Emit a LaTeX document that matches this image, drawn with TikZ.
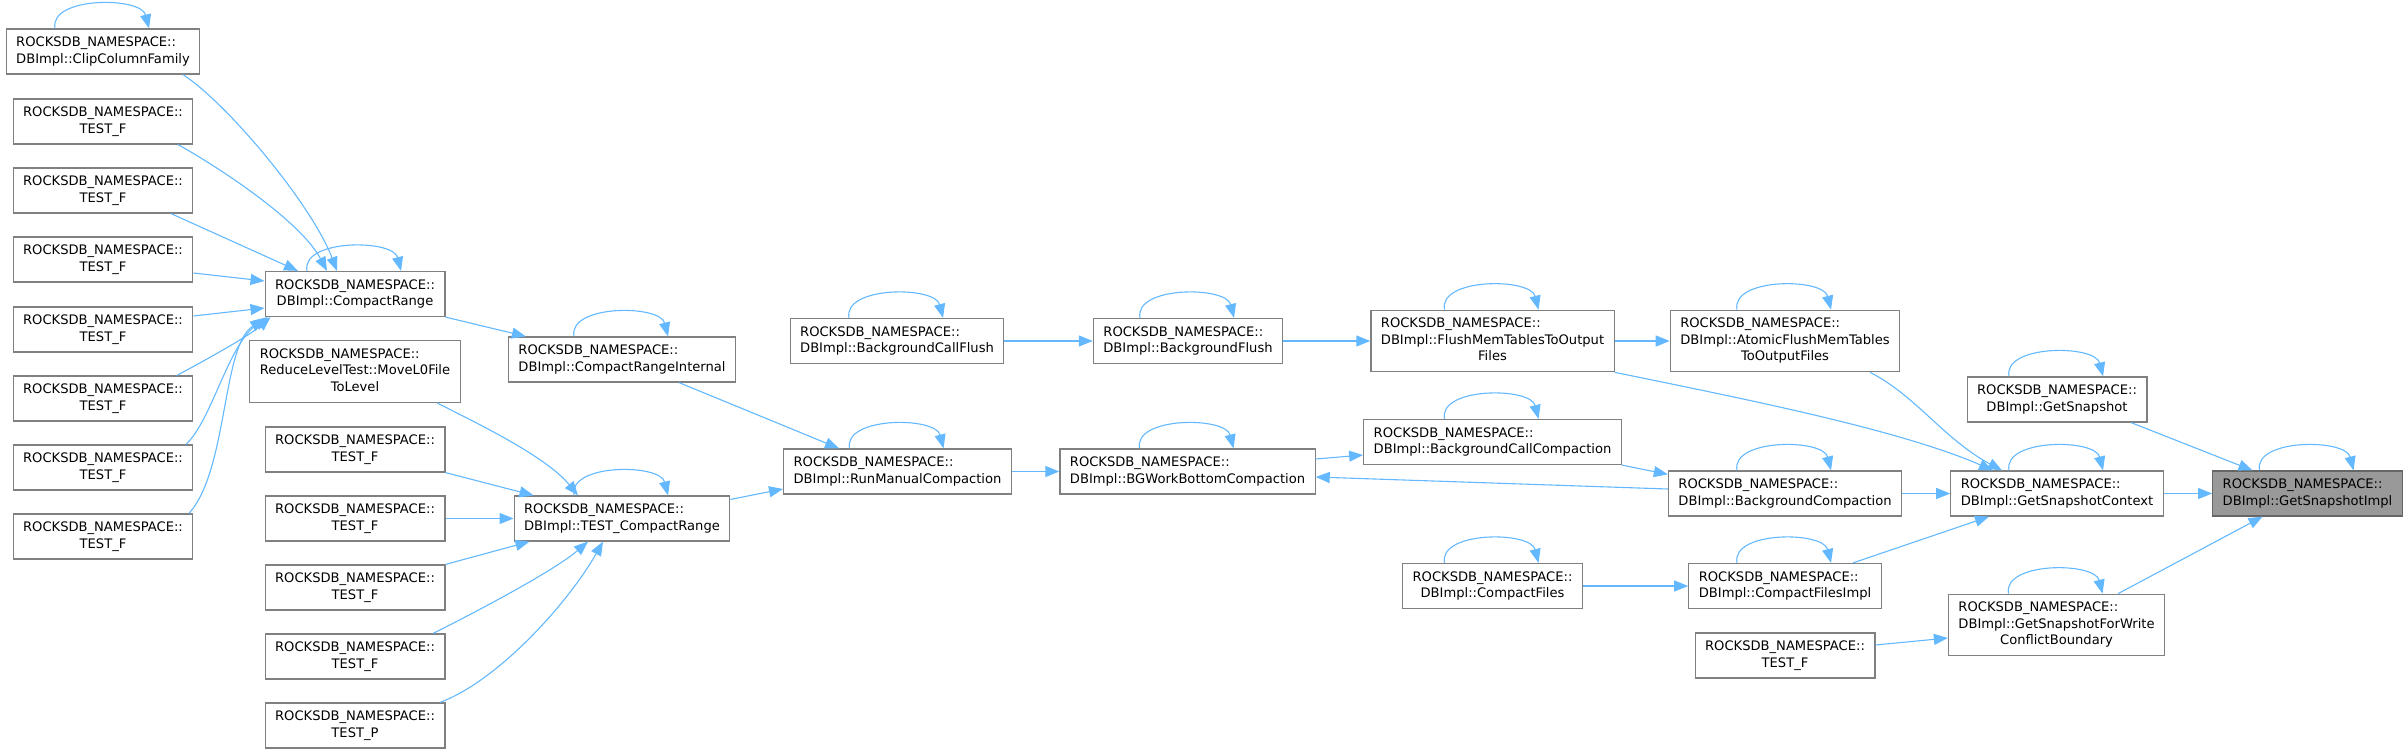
\documentclass[tikz,border=0pt]{standalone}
\usepackage{fontspec}
\setmainfont{DejaVu Sans}
\usepackage{tikz}
\usetikzlibrary{calc,arrows.meta}
\usepackage{xcolor}
\definecolor{azul}{HTML}{63B8FF}
\definecolor{borde}{HTML}{808080}
\definecolor{relleno}{HTML}{999999}
\newcommand{\nsp}{ROCKSDB\_NAMESPACE::}
\newcommand{\rotulo}[2]{\begin{tabular}{@{}l@{}}#1\\\multicolumn{1}{@{}c@{}}{#2}\end{tabular}}

\begin{document}
\begin{tikzpicture}[
      x=1pt, y=-1pt,
      funcion/.style={draw=borde, fill=white, line width=1.2pt, inner xsep=10pt, inner ysep=6pt,
                      font=\fontsize{13.1pt}{16.5pt}\selectfont},
      actual/.style={funcion, draw=borde!80!black, fill=relleno},
      flecha/.style={->, >={Triangle[length=14pt,width=11pt]}, draw=azul, line width=1.1pt}
    ]
    \useasboundingbox (0,0) rectangle (2408,754);

    \node[funcion] (cf)  at (103,51.5)    {\rotulo{\nsp}{DBImpl::ClipColumnFamily}};
    \node[funcion] (t1)  at (103,121.5)   {\rotulo{\nsp}{TEST\_F}};
    \node[funcion] (t2)  at (103,190.5)   {\rotulo{\nsp}{TEST\_F}};
    \node[funcion] (t3)  at (103,259.5)   {\rotulo{\nsp}{TEST\_F}};
    \node[funcion] (t4)  at (103,329.5)   {\rotulo{\nsp}{TEST\_F}};
    \node[funcion] (t5)  at (103,398.5)   {\rotulo{\nsp}{TEST\_F}};
    \node[funcion] (t6)  at (103,467.5)   {\rotulo{\nsp}{TEST\_F}};
    \node[funcion] (t7)  at (103,536.5)   {\rotulo{\nsp}{TEST\_F}};
    \node[funcion] (cr)  at (355,294)     {\rotulo{\nsp}{DBImpl::CompactRange}};
    \node[funcion] (ml)  at (355,371.5)   {\rotulo{\nsp\\ReduceLevelTest::MoveL0File}{ToLevel}};
    \node[funcion] (m1)  at (355,449.5)   {\rotulo{\nsp}{TEST\_F}};
    \node[funcion] (m2)  at (355,518.5)   {\rotulo{\nsp}{TEST\_F}};
    \node[funcion] (m3)  at (355,587.5)   {\rotulo{\nsp}{TEST\_F}};
    \node[funcion] (m4)  at (355,656.5)   {\rotulo{\nsp}{TEST\_F}};
    \node[funcion] (tp)  at (355,725.5)   {\rotulo{\nsp}{TEST\_P}};
    \node[funcion] (cri) at (622,359.5)   {\rotulo{\nsp}{DBImpl::CompactRangeInternal}};
    \node[funcion] (tcr) at (622,518.5)   {\rotulo{\nsp}{DBImpl::TEST\_CompactRange}};
    \node[funcion] (rmc) at (897.5,471.5) {\rotulo{\nsp}{DBImpl::RunManualCompaction}};
    \node[funcion] (bcf) at (897,341)     {\rotulo{\nsp}{DBImpl::BackgroundCallFlush}};
    \node[funcion] (bf)  at (1188,341)    {\rotulo{\nsp}{DBImpl::BackgroundFlush}};
    \node[funcion] (bgw) at (1187.5,471.5) {\rotulo{\nsp}{DBImpl::BGWorkBottomCompaction}};
    \node[funcion] (fmt) at (1492.5,341)  {\rotulo{\nsp\\DBImpl::FlushMemTablesToOutput}{Files}};
    \node[funcion] (bcc) at (1492.5,442)  {\rotulo{\nsp}{DBImpl::BackgroundCallCompaction}};
    \node[funcion] (cfs) at (1492.5,586)  {\rotulo{\nsp}{DBImpl::CompactFiles}};
    \node[funcion] (af)  at (1785,341)    {\rotulo{\nsp\\DBImpl::AtomicFlushMemTables}{ToOutputFiles}};
    \node[funcion] (bc)  at (1785,493.5)  {\rotulo{\nsp}{DBImpl::BackgroundCompaction}};
    \node[funcion] (cfi) at (1785,586)    {\rotulo{\nsp}{DBImpl::CompactFilesImpl}};
    \node[funcion] (tb)  at (1785,655.5)  {\rotulo{\nsp}{TEST\_F}};
    \node[funcion] (gs)  at (2057,399.5)  {\rotulo{\nsp}{DBImpl::GetSnapshot}};
    \node[funcion] (gsc) at (2057,493.5)  {\rotulo{\nsp}{DBImpl::GetSnapshotContext}};
    \node[funcion] (gsw) at (2056.5,625)  {\rotulo{\nsp\\DBImpl::GetSnapshotForWrite}{ConflictBoundary}};
    \node[actual]  (gsi) at (2307.5,493.5) {\rotulo{\nsp}{DBImpl::GetSnapshotImpl}};

    % llamadas recursivas
    \draw[flecha] ($(cf.north)+(-48,0)$)  .. controls +(-6,-32) and +(-8,-32) .. ($(cf.north)+(46,0)$);
    \draw[flecha] ($(cr.north)+(-48,0)$)  .. controls +(-6,-32) and +(-8,-32) .. ($(cr.north)+(46,0)$);
    \draw[flecha] ($(cri.north)+(-48,0)$) .. controls +(-6,-32) and +(-8,-32) .. ($(cri.north)+(46,0)$);
    \draw[flecha] ($(tcr.north)+(-48,0)$) .. controls +(-6,-32) and +(-8,-32) .. ($(tcr.north)+(46,0)$);
    \draw[flecha] ($(rmc.north)+(-48,0)$) .. controls +(-6,-32) and +(-8,-32) .. ($(rmc.north)+(46,0)$);
    \draw[flecha] ($(bcf.north)+(-48,0)$) .. controls +(-6,-32) and +(-8,-32) .. ($(bcf.north)+(46,0)$);
    \draw[flecha] ($(bf.north)+(-48,0)$)  .. controls +(-6,-32) and +(-8,-32) .. ($(bf.north)+(46,0)$);
    \draw[flecha] ($(bgw.north)+(-48,0)$) .. controls +(-6,-32) and +(-8,-32) .. ($(bgw.north)+(46,0)$);
    \draw[flecha] ($(fmt.north)+(-48,0)$) .. controls +(-6,-32) and +(-8,-32) .. ($(fmt.north)+(46,0)$);
    \draw[flecha] ($(bcc.north)+(-48,0)$) .. controls +(-6,-32) and +(-8,-32) .. ($(bcc.north)+(46,0)$);
    \draw[flecha] ($(cfs.north)+(-48,0)$) .. controls +(-6,-32) and +(-8,-32) .. ($(cfs.north)+(46,0)$);
    \draw[flecha] ($(af.north)+(-48,0)$)  .. controls +(-6,-32) and +(-8,-32) .. ($(af.north)+(46,0)$);
    \draw[flecha] ($(bc.north)+(-48,0)$)  .. controls +(-6,-32) and +(-8,-32) .. ($(bc.north)+(46,0)$);
    \draw[flecha] ($(cfi.north)+(-48,0)$) .. controls +(-6,-32) and +(-8,-32) .. ($(cfi.north)+(46,0)$);
    \draw[flecha] ($(gs.north)+(-48,0)$)  .. controls +(-6,-32) and +(-8,-32) .. ($(gs.north)+(46,0)$);
    \draw[flecha] ($(gsc.north)+(-48,0)$) .. controls +(-6,-32) and +(-8,-32) .. ($(gsc.north)+(46,0)$);
    \draw[flecha] ($(gsw.north)+(-48,0)$) .. controls +(-6,-32) and +(-8,-32) .. ($(gsw.north)+(46,0)$);
    \draw[flecha] ($(gsi.north)+(-48,0)$) .. controls +(-6,-32) and +(-8,-32) .. ($(gsi.north)+(46,0)$);

    % columna izquierda hacia CompactRange
    \draw[flecha] ($(cf.south)+(80,0)$) .. controls (228,104) and (312,205) .. ($(cr.north)+(-18,0)$);
    \draw[flecha] ($(t1.south)+(75,0)$) .. controls (215,165) and (300,220) .. ($(cr.north)+(-28,0)$);
    \draw[flecha] ($(t2.south)+(68,0)$) -- ($(cr.north)+(-57,0)$);
    \draw[flecha] ($(t3.east)+(0,13.5)$) -- ($(cr.west)+(0,-13)$);
    \draw[flecha] ($(t4.east)+(0,-13.5)$) -- ($(cr.west)+(0,14)$);
    \draw[flecha] ($(t5.north)+(74,0)$) .. controls (215,355) and (250,335) .. ($(cr.south west)+(6,0)$);
    \draw[flecha] ($(t6.north)+(83,0)$) .. controls (212,420) and (228,345) .. ($(cr.south west)+(3,0)$);
    \draw[flecha] ($(t7.north)+(86,0)$) .. controls (228,470) and (222,345) .. ($(cr.south west)+(0,2)$);
    \draw[flecha] (cr.south east) -- ($(cri.north west)+(18,0)$);
    \draw[flecha] ($(cri.south)+(57,0)$) -- ($(rmc.north west)+(56,0)$);

    % hacia TEST_CompactRange
    \draw[flecha] ($(ml.south)+(82,0)$) .. controls (470,420) and (545,455) .. ($(tcr.north)+(-44,0)$);
    \draw[flecha] (m1.south east) -- ($(tcr.north west)+(20,0)$);
    \draw[flecha] (m2.east) -- (tcr.west);
    \draw[flecha] (m3.north east) -- ($(tcr.south west)+(16,0)$);
    \draw[flecha] ($(m4.north)+(78,0)$) .. controls (480,610) and (555,570) .. ($(tcr.south)+(-34,0)$);
    \draw[flecha] ($(tp.north)+(85,0)$) .. controls (500,680) and (570,600) .. ($(tcr.south)+(-19,0)$);
    \draw[flecha] ($(tcr.north east)+(0,4)$) -- ($(rmc.west)+(0,17.5)$);

    % cadena central
    \draw[flecha] (rmc.east) -- (bgw.west);
    \draw[flecha] (bcf.east) -- (bf.west);
    \draw[flecha] (bf.east) -- (fmt.west);
    \draw[flecha] (fmt.east) -- (af.west);
    \draw[flecha] ($(bgw.east)+(0,-12.5)$) -- ($(bcc.west)+(0,13)$);
    \draw[flecha] (bcc.south east) -- ($(bc.north west)+(0,4)$);
    \draw[flecha] ($(bc.west)+(0,-4.5)$) -- ($(bgw.east)+(0,5.5)$);
    \draw[flecha] (cfs.east) -- (cfi.west);

    % hacia GetSnapshotContext y GetSnapshotImpl
    \draw[flecha] (fmt.south east) .. controls (1750,400) and (1900,430) .. ($(gsc.north)+(-64,0)$);
    \draw[flecha] ($(af.south)+(85,0)$) .. controls (1915,395) and (1945,440) .. ($(gsc.north)+(-55,0)$);
    \draw[flecha] (bc.east) -- (gsc.west);
    \draw[flecha] ($(cfi.north)+(68,0)$) -- ($(gsc.south)+(-68,0)$);
    \draw[flecha] (gsc.east) -- (gsi.west);
    \draw[flecha] ($(gs.south)+(74,0)$) -- ($(gsi.north)+(-55,0)$);
    \draw[flecha] ($(gsw.north)+(61.5,0)$) -- ($(gsi.south)+(-45,0)$);
    \draw[flecha] ($(tb.east)+(0,-10.5)$) -- ($(gsw.west)+(0,13)$);
  \end{tikzpicture}
\end{document}
